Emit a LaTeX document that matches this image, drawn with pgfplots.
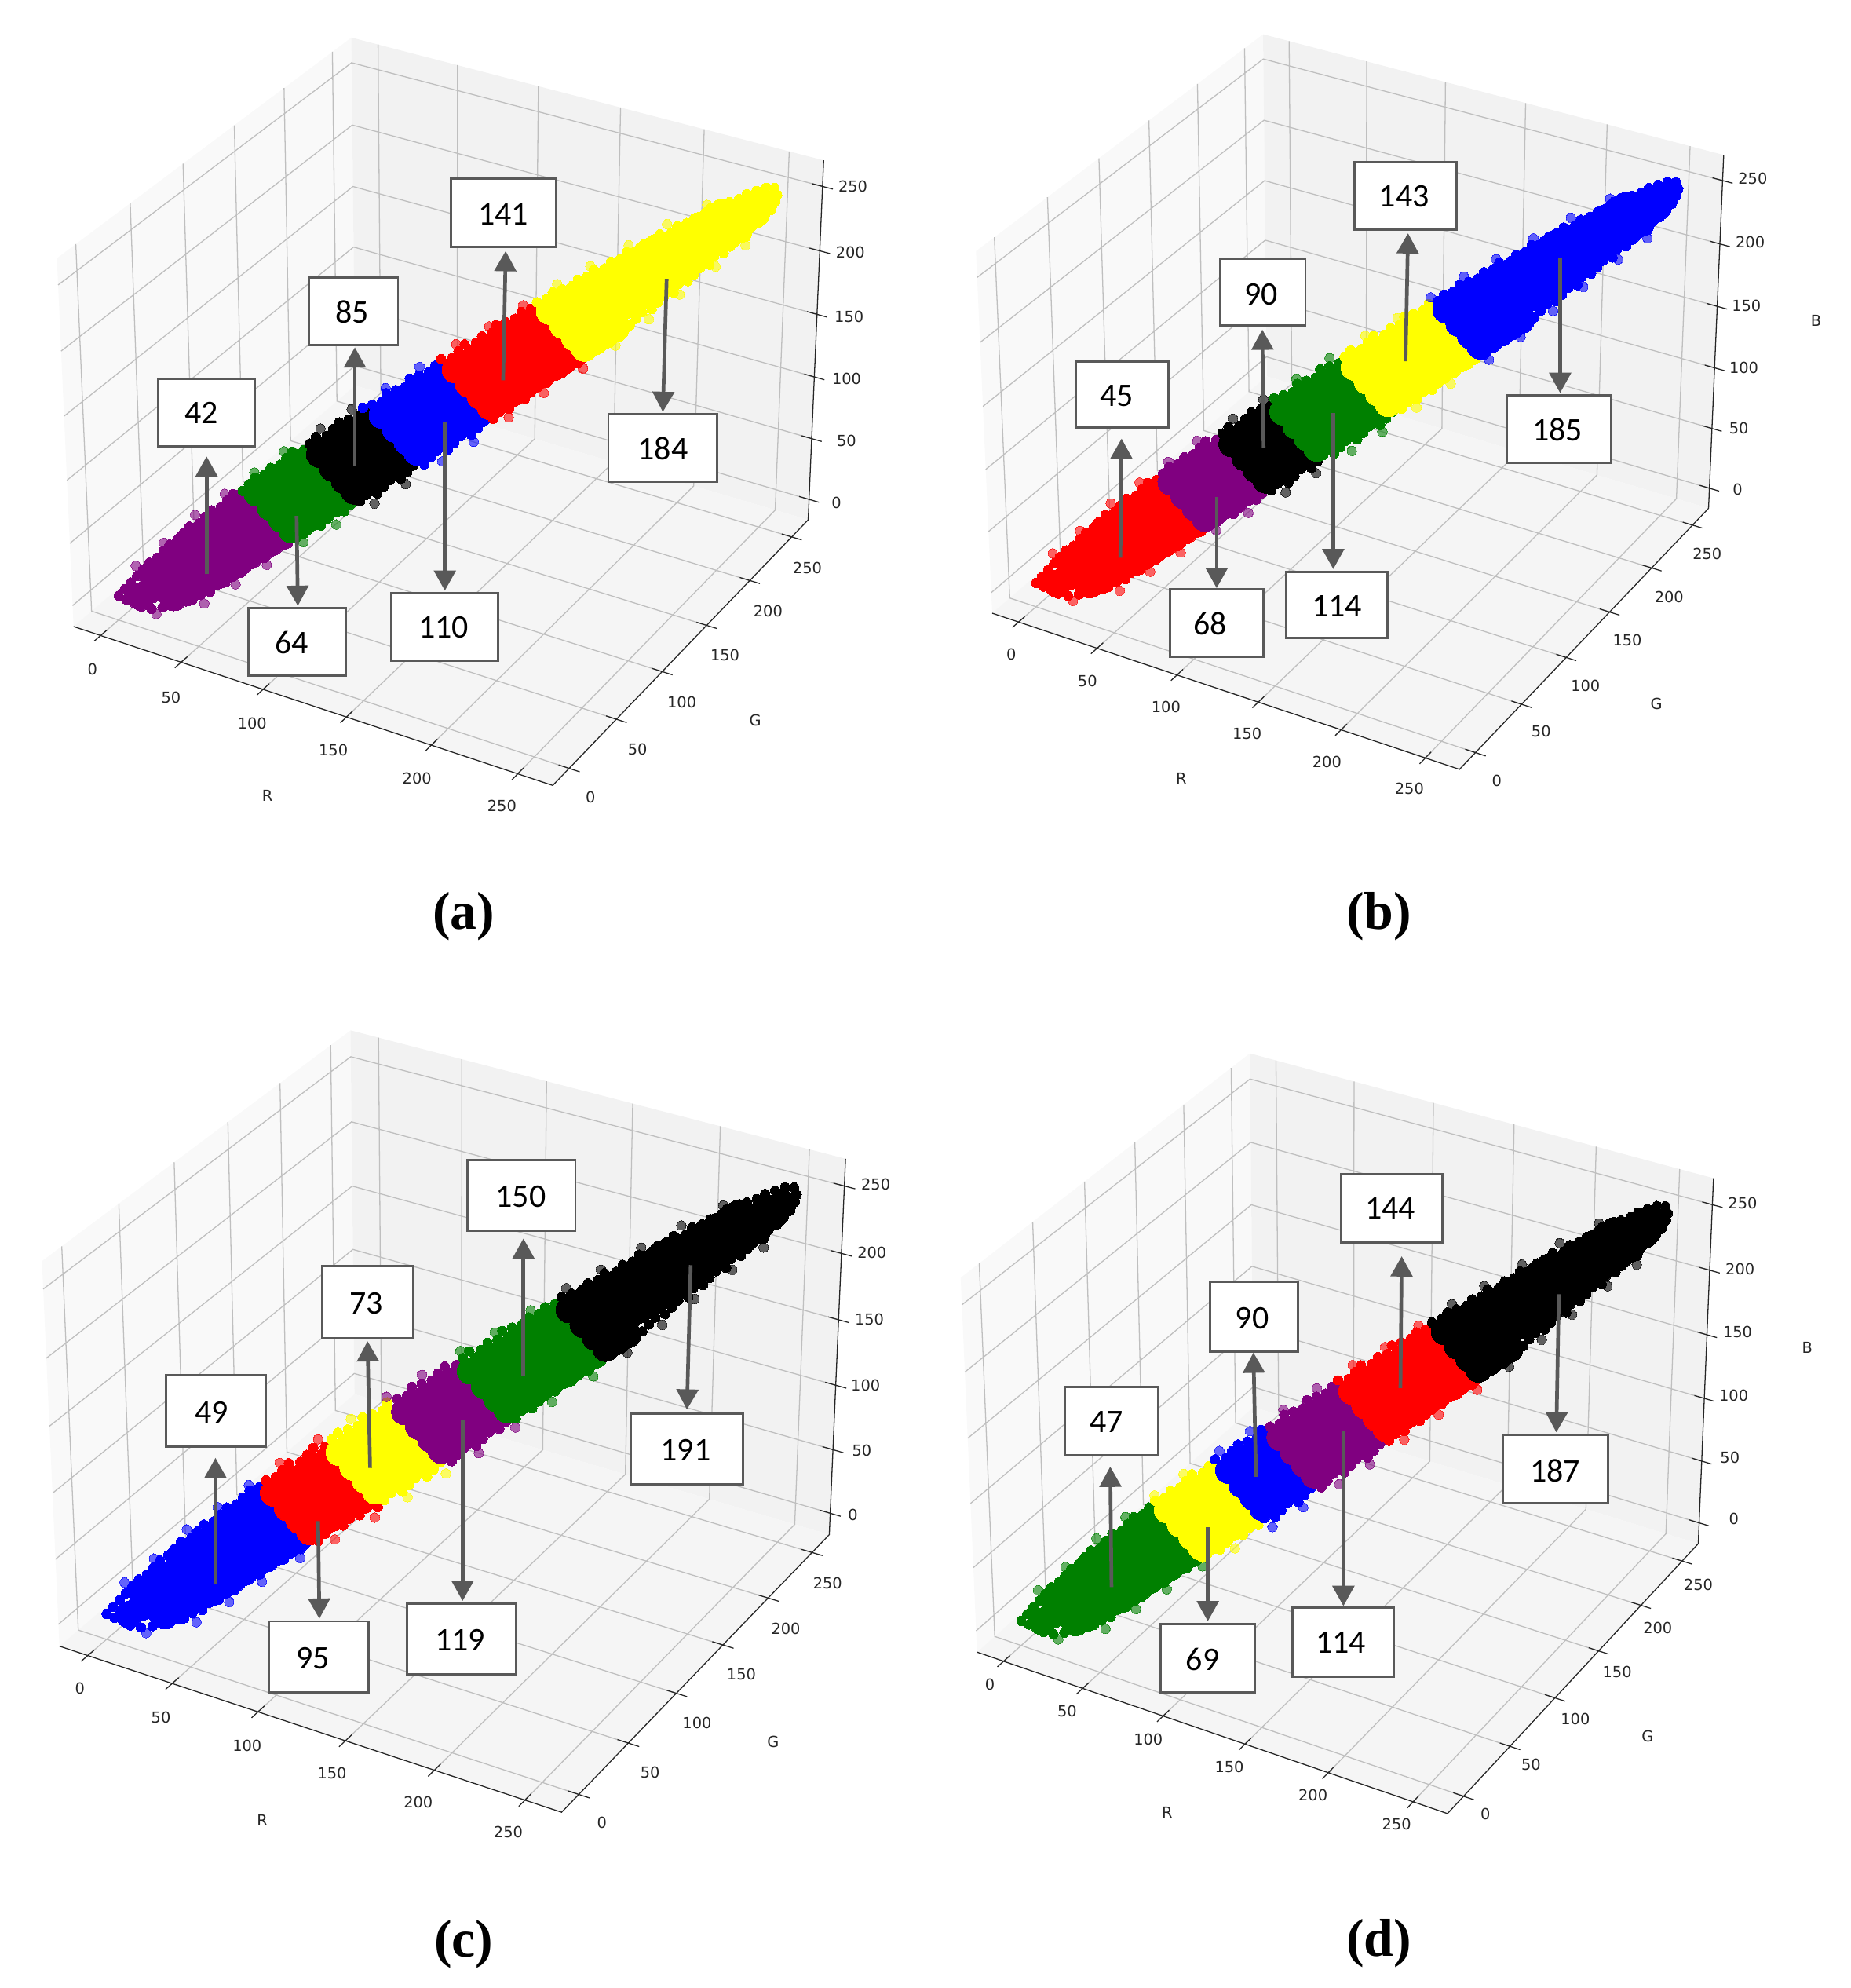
\documentclass[border=0pt]{standalone}
\usepackage{fontspec}
\setmainfont{DejaVu Sans}
\newfontfamily\boxfont{Carlito}
\newfontfamily\capfont{Liberation Serif}
\usepackage{pgfplots}
\usepackage{pgfplotstable}
\pgfplotsset{compat=1.18}
\usetikzlibrary{arrows.meta}
\definecolor{pgrey}{HTML}{595959}
\definecolor{cpurple}{HTML}{800080}
\definecolor{cgreen}{HTML}{008000}
\definecolor{cyellow}{RGB}{255,255,0}
% ---- perspective camera of the 3D RGB box (elev 30, azim -60, limits -17..270)
\newcommand\PX[3]{\camtx+\camsx*(0.0034486*((#1)-126.5)+0.0019911*((#2)-126.5))/(10-(0.0017243*((#1)-126.5)-0.0029867*((#2)-126.5)+0.0014931*((#3)-126.5)))}
\newcommand\PY[3]{\camty-\camsy*(-0.00099555*((#1)-126.5)+0.0017243*((#2)-126.5)+0.0025860*((#3)-126.5))/(10-(0.0017243*((#1)-126.5)-0.0029867*((#2)-126.5)+0.0014931*((#3)-126.5)))}
\pgfplotsset{
 /pgfplots/table/rgbtab/.style={x expr={\PX{\thisrow{R}}{\thisrow{G}}{\thisrow{B}}},y expr={\PY{\thisrow{R}}{\thisrow{G}}{\thisrow{B}}}},
 /pgfplots/table/cloudtab/.style={x expr={\PX{\thisrow{G}+\thisrow{D}}{\thisrow{G}}{\thisrow{G}-\thisrow{D}}},y expr={\PY{\thisrow{G}+\thisrow{D}}{\thisrow{G}}{\thisrow{G}-\thisrow{D}}}},
 panel/.style={at={(0pt,0pt)},anchor=south west,scale only axis,width=1460pt,height=1568.3pt,xmin=0,xmax=1460,ymin=0,ymax=1568.3,y dir=reverse,hide axis,clip=false},
}
% ---- box panes
\pgfplotstableread{R G B
-17 -17 -17
-17 270 -17
-17 270 270
-17 -17 270
}\paneleft
\pgfplotstableread{R G B
-17 270 -17
270 270 -17
270 270 270
-17 270 270
}\paneback
\pgfplotstableread{R G B
-17 -17 -17
270 -17 -17
270 270 -17
-17 270 -17
}\panefloor
\pgfplotstableread{R G B
0 -17 -17
0 270 -17
0 270 270
nan nan nan
50 -17 -17
50 270 -17
50 270 270
nan nan nan
100 -17 -17
100 270 -17
100 270 270
nan nan nan
150 -17 -17
150 270 -17
150 270 270
nan nan nan
200 -17 -17
200 270 -17
200 270 270
nan nan nan
250 -17 -17
250 270 -17
250 270 270
nan nan nan
270 0 -17
-17 0 -17
-17 0 270
nan nan nan
270 50 -17
-17 50 -17
-17 50 270
nan nan nan
270 100 -17
-17 100 -17
-17 100 270
nan nan nan
270 150 -17
-17 150 -17
-17 150 270
nan nan nan
270 200 -17
-17 200 -17
-17 200 270
nan nan nan
270 250 -17
-17 250 -17
-17 250 270
nan nan nan
-17 -17 0
-17 270 0
270 270 0
nan nan nan
-17 -17 50
-17 270 50
270 270 50
nan nan nan
-17 -17 100
-17 270 100
270 270 100
nan nan nan
-17 -17 150
-17 270 150
270 270 150
nan nan nan
-17 -17 200
-17 270 200
270 270 200
nan nan nan
-17 -17 250
-17 270 250
270 270 250
}\gridlines
\pgfplotstableread{R G B
-17 -17 -17
270 -17 -17
270 270 -17
270 270 270
nan nan nan
0 -23 -17
0 -11 -17
nan nan nan
50 -23 -17
50 -11 -17
nan nan nan
100 -23 -17
100 -11 -17
nan nan nan
150 -23 -17
150 -11 -17
nan nan nan
200 -23 -17
200 -11 -17
nan nan nan
250 -23 -17
250 -11 -17
nan nan nan
264 0 -17
276 0 -17
nan nan nan
264 50 -17
276 50 -17
nan nan nan
264 100 -17
276 100 -17
nan nan nan
264 150 -17
276 150 -17
nan nan nan
264 200 -17
276 200 -17
nan nan nan
264 250 -17
276 250 -17
nan nan nan
264 270 0
276 270 0
nan nan nan
264 270 50
276 270 50
nan nan nan
264 270 100
276 270 100
nan nan nan
264 270 150
276 270 150
nan nan nan
264 270 200
276 270 200
nan nan nan
264 270 250
276 270 250
}\axislines
% ---- the pixel cloud: G, and D = R-G = G-B
\pgfplotstableread[row sep=\\]{G D\\
6 4\\10 4\\
14 -1\\18 -1\\22 -1\\26 -1\\14 8\\18 8\\22 8\\26 8\\14 12\\18 13\\22 13\\26 13\\
30 -5\\34 -5\\38 -5\\42 -5\\46 -5\\50 -5\\30 1\\34 1\\38 1\\42 1\\46 1\\50 1\\30 8\\34 8\\38 8\\42 8\\46 8\\50 8\\30 14\\34 14\\38 14\\42 14\\46 14\\50 14\\
54 -7\\58 -7\\62 -7\\66 -7\\70 -7\\74 -7\\78 -7\\82 -7\\86 -7\\90 -7\\94 -7\\98 -7\\102 -7\\106 -7\\110 -7\\114 -7\\118 -7\\122 -7\\126 -7\\130 -7\\134 -7\\138 -7\\142 -7\\146 -7\\150 -7\\154 -7\\158 -7\\162 -7\\166 -7\\170 -7\\174 -7\\178 -7\\182 -7\\
54 1\\58 1\\62 1\\66 1\\70 1\\74 1\\78 1\\82 1\\86 1\\90 1\\94 1\\98 1\\102 1\\106 1\\110 1\\114 1\\118 1\\122 1\\126 1\\130 1\\134 1\\138 1\\142 1\\146 1\\150 1\\154 1\\158 1\\162 1\\166 1\\170 1\\174 1\\178 1\\182 1\\
54 8\\58 8\\62 8\\66 8\\70 8\\74 8\\78 8\\82 8\\86 8\\90 8\\94 8\\98 8\\102 8\\106 8\\110 8\\114 8\\118 8\\122 8\\126 8\\130 8\\134 8\\138 8\\142 8\\146 8\\150 8\\154 8\\158 8\\162 8\\166 8\\170 8\\174 8\\178 8\\182 8\\
54 14\\58 14\\62 14\\66 14\\70 14\\74 14\\78 14\\82 14\\86 14\\90 14\\94 14\\98 14\\102 14\\106 14\\110 14\\114 14\\118 14\\122 14\\126 14\\130 14\\134 14\\138 14\\142 14\\146 14\\150 14\\154 14\\158 14\\162 14\\166 14\\170 14\\174 14\\178 14\\182 14\\
186 -6\\190 -6\\194 -6\\198 -6\\202 -6\\206 -6\\210 -6\\186 1\\190 1\\194 1\\198 1\\202 1\\206 1\\210 1\\186 8\\190 8\\194 8\\198 8\\202 8\\206 8\\210 8\\
214 -4\\218 -4\\222 -4\\226 -4\\230 -4\\234 -4\\214 2\\218 2\\222 2\\226 2\\230 2\\234 2\\214 6\\218 6\\222 6\\226 6\\230 6\\234 6\\
238 1\\242 1\\246 2\\238 4\\242 4\\
}\cloudcore
\pgfplotstableread[row sep=\\]{G D\\
2 2\\4 8\\6 11\\9 13\\12 14\\15 15\\18 17\\21 17\\24 18\\27 17\\30 18\\33 17\\36 18\\39 17\\42 16\\45 18\\48 17\\51 16\\54 18\\57 17\\60 18\\63 17\\66 19\\69 18\\72 17\\75 19\\78 18\\81 19\\84 18\\87 20\\90 19\\93 18\\96 20\\99 19\\102 18\\105 20\\108 19\\111 18\\114 20\\117 19\\120 18\\123 20\\126 19\\129 18\\132 19\\135 18\\138 19\\141 17\\144 19\\147 18\\150 17\\153 18\\156 17\\159 18\\162 16\\165 18\\168 17\\171 16\\174 17\\177 16\\180 17\\183 15\\186 16\\189 15\\192 14\\195 15\\198 14\\201 13\\204 14\\207 12\\210 13\\213 12\\216 11\\219 12\\222 10\\225 11\\228 10\\231 9\\234 10\\237 8\\240 8\\243 7\\246 6\\249 4\\251 2\\
1 -1\\4 -2\\7 -3\\10 -4\\13 -5\\16 -6\\19 -6\\22 -7\\25 -8\\28 -8\\31 -9\\34 -10\\37 -9\\40 -10\\43 -11\\46 -10\\49 -11\\52 -12\\55 -11\\58 -12\\61 -13\\64 -12\\67 -13\\70 -12\\73 -13\\76 -14\\79 -12\\82 -13\\85 -14\\88 -12\\91 -13\\94 -14\\97 -13\\100 -12\\103 -14\\106 -13\\109 -12\\112 -14\\115 -13\\118 -12\\121 -14\\124 -13\\127 -12\\130 -13\\133 -14\\136 -12\\139 -13\\142 -14\\145 -12\\148 -13\\151 -12\\154 -14\\157 -13\\160 -12\\163 -13\\166 -12\\169 -13\\172 -12\\175 -13\\178 -12\\181 -11\\184 -12\\187 -11\\190 -12\\193 -10\\196 -11\\199 -10\\202 -11\\205 -9\\208 -10\\211 -9\\214 -10\\217 -8\\220 -9\\223 -8\\226 -8\\229 -7\\232 -8\\235 -6\\238 -6\\241 -5\\244 -5\\247 -4\\250 -3\\252 -1\\
}\cloudedge
\pgfplotstableread[row sep=\\]{G D\\
6 14\\20 21\\32 21\\44 21\\58 21\\70 22\\84 23\\96 23\\110 23\\122 23\\136 22\\150 21\\165 21\\178 20\\192 18\\205 16\\220 14\\232 13\\
12 -8\\24 -10\\38 -13\\50 -14\\62 -15\\74 -16\\88 -16\\100 -16\\113 -16\\126 -16\\140 -16\\152 -15\\165 -15\\178 -15\\190 -14\\204 -13\\218 -12\\232 -10\\
}\cloudout
% ---- drawing helpers
\newcommand\Frame{%
 \addplot[fill=black!2.5,draw=none,forget plot] table[rgbtab]{\paneleft};
 \addplot[fill=black!5,draw=none,forget plot] table[rgbtab]{\paneback};
 \addplot[fill=black!4,draw=none,forget plot] table[rgbtab]{\panefloor};
 \addplot[color=black!25,line width=0.8pt,unbounded coords=jump,forget plot] table[rgbtab]{\gridlines};
 \addplot[color=black!85,line width=0.8pt,unbounded coords=jump,forget plot] table[rgbtab]{\axislines};
}
\newcommand\cluster[3]{%
 \addplot[only marks,color=#1,mark=*,mark size=3.8pt,mark options={draw=#1,fill=#1,line width=0pt,opacity=0.6},restrict expr to domain={\thisrow{G}}{#2:#3},forget plot] table[cloudtab]{\cloudout};
 \addplot[only marks,color=#1,mark=*,mark size=3.8pt,mark options={draw=#1,fill=#1,line width=0pt},restrict expr to domain={\thisrow{G}}{#2:#3},forget plot] table[cloudtab]{\cloudedge};
 \addplot[only marks,color=#1,mark=*,mark size=10.5pt,mark options={draw=#1,fill=#1,line width=0pt},restrict expr to domain={\thisrow{G}}{#2:#3},forget plot] table[cloudtab]{\cloudcore};
}
\newcommand\arr[4]{\draw[color=pgrey,line width=2.9pt,-{Triangle[length=16pt,width=17pt]}] (axis cs:#1,#2) -- (axis cs:#3,#4);}
\newcommand\bx[7]{%
 \draw[fill=white,draw=pgrey,line width=1.8pt] (axis cs:#1,#2) rectangle (axis cs:#3,#4);
 \node[font=\boxfont\fontsize{26}{30}\selectfont,inner sep=0pt,yshift=-1pt] at (axis cs:#5,#6) {#7};}
\newcommand\tl[3]{\node[font=\fontsize{12}{14}\selectfont,text=black!85,inner sep=0pt,yshift=-1pt] at (axis cs:#1,#2) {#3};}
\newcommand\cp[3]{\node[font=\capfont\bfseries\fontsize{42}{48}\selectfont,inner sep=0pt,yshift=-2pt] at (axis cs:#1,#2) {#3};}
\begin{document}
\begin{tikzpicture}
\path (0pt,0pt) rectangle (1460pt,1568.3pt);
% ================= (a)
\def\camtx{353}\def\camsx{3791}\def\camty{311}\def\camsy{3866}
\begin{axis}[panel]
\Frame
\cluster{cpurple}{0}{55}
\cluster{cgreen}{55}{79.4}
\cluster{black}{79.4}{102.6}
\cluster{blue}{102.6}{130.8}
\cluster{red}{130.8}{166.7}
\cluster{cyellow}{166.7}{260}
\end{axis}
\begin{axis}[panel]
\arr{163}{453}{163}{360}\arr{280}{368}{280}{274}\arr{397}{300}{399}{198}
\arr{234}{407}{235}{478}\arr{351}{333}{351}{466}\arr{526}{220}{523}{325}
\bx{125}{299}{201}{352}{159}{325}{42}
\bx{244}{219}{314}{272}{278}{245}{85}
\bx{356}{141}{439}{195}{397}{168}{141}
\bx{196}{480}{273}{533}{230}{506}{64}
\bx{309}{468}{393}{521}{350}{494}{110}
\bx{480}{327}{566}{380}{523}{353}{184}
\tl{73}{527}{0}\tl{135}{549}{50}\tl{199}{570}{100}\tl{263}{591}{150}\tl{329}{613}{200}\tl{396}{635}{250}\tl{211}{627}{R}
\tl{466}{628}{0}\tl{503}{590}{50}\tl{538}{553}{100}\tl{572}{516}{150}\tl{606}{481}{200}\tl{637}{447}{250}\tl{596}{567}{G}
\tl{660}{396}{0}\tl{668}{347}{50}\tl{668}{298}{100}\tl{670}{249}{150}\tl{671}{198}{200}\tl{673}{146}{250}
\cp{366}{721}{(a)}
\end{axis}
% ================= (b)
\def\camtx{1070.5}\def\camsx{3697}\def\camty{303.6}\def\camsy{3800}
\begin{axis}[panel]
\Frame
\cluster{red}{0}{56}
\cluster{cpurple}{56}{80}
\cluster{black}{80}{102}
\cluster{cgreen}{102}{129.7}
\cluster{cyellow}{129.7}{164.5}
\cluster{blue}{164.5}{260}
\end{axis}
\begin{axis}[panel]
\arr{884}{440}{885}{346}\arr{997}{353}{996}{260}\arr{1109}{285}{1111}{184}
\arr{960}{392}{960}{464}\arr{1052}{326}{1052}{449}\arr{1231}{204}{1231}{310}
\bx{849}{285}{922}{337}{881}{311}{45}
\bx{963}{204}{1030}{257}{995}{231}{90}
\bx{1069}{128}{1149}{181}{1108}{154}{143}
\bx{923}{465}{997}{518}{955}{491}{68}
\bx{1015}{451}{1095}{503}{1055}{477}{114}
\bx{1189}{312}{1271}{365}{1229}{338}{185}
\tl{798}{515}{0}\tl{858}{536}{50}\tl{920}{557}{100}\tl{984}{578}{150}\tl{1047}{600}{200}\tl{1112}{621}{250}\tl{932}{613}{R}
\tl{1181}{615}{0}\tl{1216}{576}{50}\tl{1251}{540}{100}\tl{1284}{504}{150}\tl{1317}{470}{200}\tl{1347}{436}{250}\tl{1307}{554}{G}
\tl{1371}{385}{0}\tl{1372}{337}{50}\tl{1376}{289}{100}\tl{1378}{240}{150}\tl{1381}{190}{200}\tl{1383}{140}{250}\tl{1433}{252}{B}
\cp{1088}{721}{(b)}
\end{axis}
% ================= (c)
\def\camtx{356}\def\camsx{3973}\def\camty{1107}\def\camsy{4042}
\begin{axis}[panel]
\Frame
\cluster{blue}{0}{65.2}
\cluster{red}{65.2}{89.3}
\cluster{cyellow}{89.3}{112.4}
\cluster{cpurple}{112.4}{137}
\cluster{cgreen}{137}{172.6}
\cluster{black}{172.6}{260}
\end{axis}
\begin{axis}[panel]
\arr{170}{1249}{170}{1150}\arr{292}{1158}{290}{1058}\arr{413}{1085}{413}{977}
\arr{251}{1200}{252}{1277}\arr{365}{1120}{365}{1263}\arr{545}{998}{542}{1112}
\bx{131}{1085}{210}{1141}{167}{1113}{49}
\bx{254}{999}{326}{1056}{289}{1027}{73}
\bx{369}{915}{454}{971}{411}{943}{150}
\bx{212}{1279}{291}{1335}{247}{1307}{95}
\bx{321}{1265}{407}{1321}{363}{1293}{119}
\bx{498}{1115}{586}{1171}{541}{1143}{191}
\tl{63}{1331}{0}\tl{127}{1354}{50}\tl{195}{1376}{100}\tl{262}{1398}{150}\tl{330}{1421}{200}\tl{401}{1444}{250}\tl{207}{1435}{R}
\tl{475}{1437}{0}\tl{513}{1397}{50}\tl{550}{1358}{100}\tl{585}{1320}{150}\tl{620}{1284}{200}\tl{653}{1248}{250}\tl{610}{1373}{G}
\tl{673}{1194}{0}\tl{680}{1143}{50}\tl{683}{1092}{100}\tl{686}{1040}{150}\tl{688}{987}{200}\tl{691}{933}{250}
\cp{366}{1532}{(c)}
\end{axis}
% ================= (d)
\def\camtx{1060.5}\def\camsx{3722}\def\camty{1117}\def\camsy{3930}
\begin{axis}[panel]
\Frame
\cluster{cgreen}{0}{60}
\cluster{cyellow}{60}{82.8}
\cluster{blue}{82.8}{104.5}
\cluster{cpurple}{104.5}{130.7}
\cluster{red}{130.7}{167.8}
\cluster{black}{167.8}{260}
\end{axis}
\begin{axis}[panel]
\arr{877}{1252}{876}{1157}\arr{991}{1165}{989}{1067}\arr{1105}{1095}{1106}{991}
\arr{953}{1205}{953}{1279}\arr{1060}{1129}{1060}{1267}\arr{1230}{1021}{1228}{1130}
\bx{840}{1094}{914}{1148}{873}{1121}{47}
\bx{955}{1011}{1024}{1066}{988}{1039}{90}
\bx{1058}{926}{1138}{980}{1097}{952}{144}
\bx{916}{1281}{990}{1335}{949}{1308}{69}
\bx{1020}{1268}{1100}{1323}{1058}{1295}{114}
\bx{1186}{1132}{1269}{1186}{1227}{1159}{187}
\tl{781}{1328}{0}\tl{842}{1349}{50}\tl{906}{1371}{100}\tl{970}{1393}{150}\tl{1036}{1415}{200}\tl{1102}{1438}{250}\tl{921}{1429}{R}
\tl{1172}{1430}{0}\tl{1208}{1391}{50}\tl{1243}{1355}{100}\tl{1276}{1318}{150}\tl{1308}{1283}{200}\tl{1340}{1249}{250}\tl{1300}{1369}{G}
\tl{1368}{1197}{0}\tl{1365}{1149}{50}\tl{1368}{1100}{100}\tl{1371}{1050}{150}\tl{1373}{1000}{200}\tl{1375}{948}{250}\tl{1426}{1062}{B}
\cp{1088}{1531}{(d)}
\end{axis}
\end{tikzpicture}
\end{document}
